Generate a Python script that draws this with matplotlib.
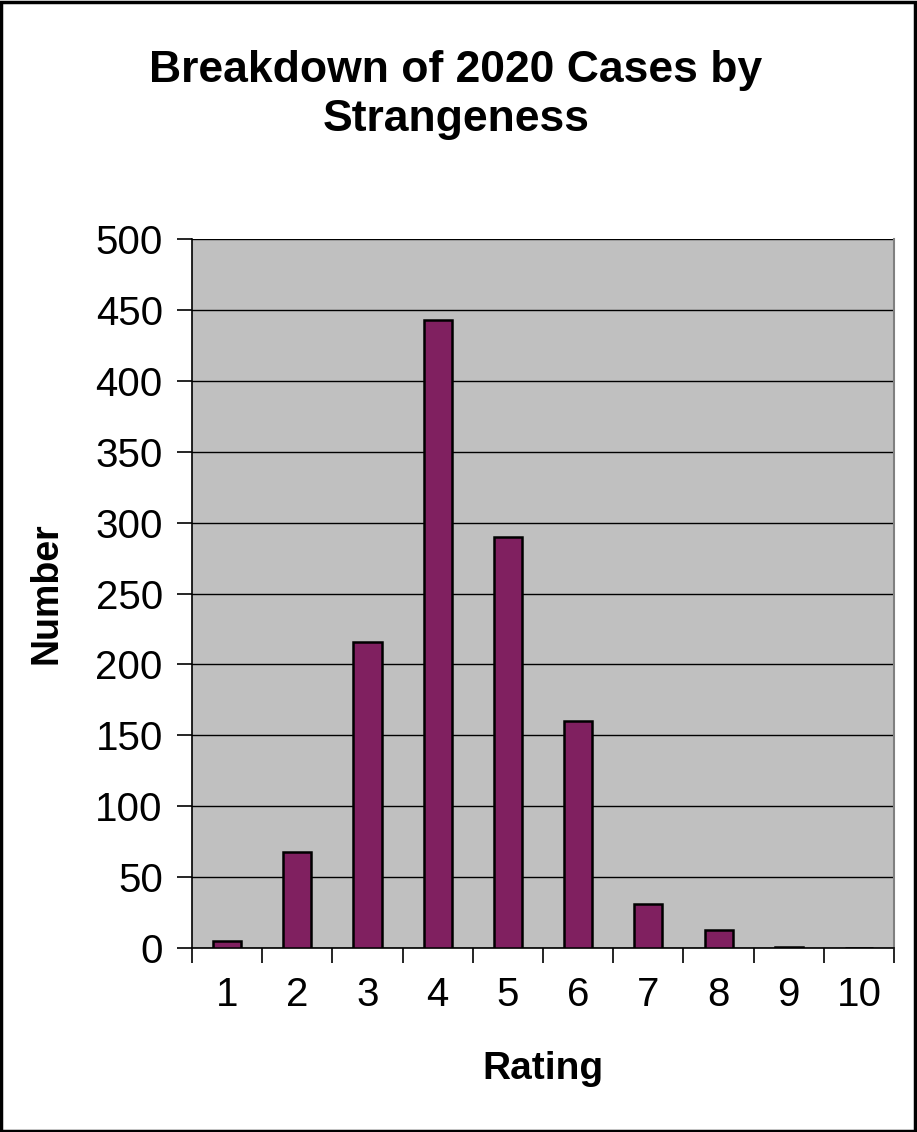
import numpy as np
import matplotlib.pyplot as plt
from matplotlib.patches import Rectangle

# ------------------------------------------------------------
# Datos
# ------------------------------------------------------------
ratings = ["1", "2", "3", "4", "5", "6", "7", "8", "9", "10"]
numbers = [5, 68, 216, 443, 290, 160, 31, 13, 1, 0]
y_ticks = [0, 50, 100, 150, 200, 250, 300, 350, 400, 450, 500]

plt.rcParams["font.family"] = ["Liberation Sans", "DejaVu Sans"]

fig = plt.figure(figsize=(9.17, 11.32), dpi=100)
ax = fig.add_axes([0.2094, 0.1625, 0.7656, 0.6264])

x = np.arange(1, len(ratings) + 1)

ax.set_facecolor("#C0C0C0")
ax.set_axisbelow(True)
ax.yaxis.grid(True, color="black", linewidth=1)

ax.bar(
    x,
    numbers,
    width=0.4,
    color="#802060",
    edgecolor="black",
    linewidth=1.8,
    zorder=3
)

ax.set_xlim(0.5, len(ratings) + 0.5)
ax.set_ylim(0, 500)

# Marcas del eje x en los limites de categoria
ax.set_xticks(np.arange(0.5, len(ratings) + 1, 1))
ax.set_xticklabels([])
ax.set_xticks(x, minor=True)
ax.set_xticklabels(ratings, minor=True, fontsize=29)
ax.tick_params(axis="x", which="major", length=11, width=1.2, color="black")
ax.tick_params(axis="x", which="minor", length=0, pad=20)

ax.set_yticks(y_ticks)
ax.tick_params(axis="y", length=11, width=1.2, labelsize=29, pad=10)

ax.spines["top"].set_visible(False)
ax.spines["right"].set_color("#808080")
ax.spines["right"].set_linewidth(1.5)
ax.spines["left"].set_color("black")
ax.spines["bottom"].set_color("black")
ax.spines["left"].set_linewidth(1.2)
ax.spines["bottom"].set_linewidth(1.2)

ax.set_xlabel("Rating", fontsize=28, fontweight="bold", labelpad=27)
ax.set_ylabel("Number", fontsize=27, fontweight="bold", labelpad=22)

fig.text(
    0.497, 0.916,
    "Breakdown of 2020 Cases by\nStrangeness",
    ha="center", va="center",
    fontsize=32, fontweight="bold",
    linespacing=1.27
)

# Borde de la figura
fig.patches.append(
    Rectangle((0.001, 0.001), 0.997, 0.997, transform=fig.transFigure,
              fill=False, edgecolor="black", linewidth=2.5)
)

plt.savefig("out.png", dpi=100)
